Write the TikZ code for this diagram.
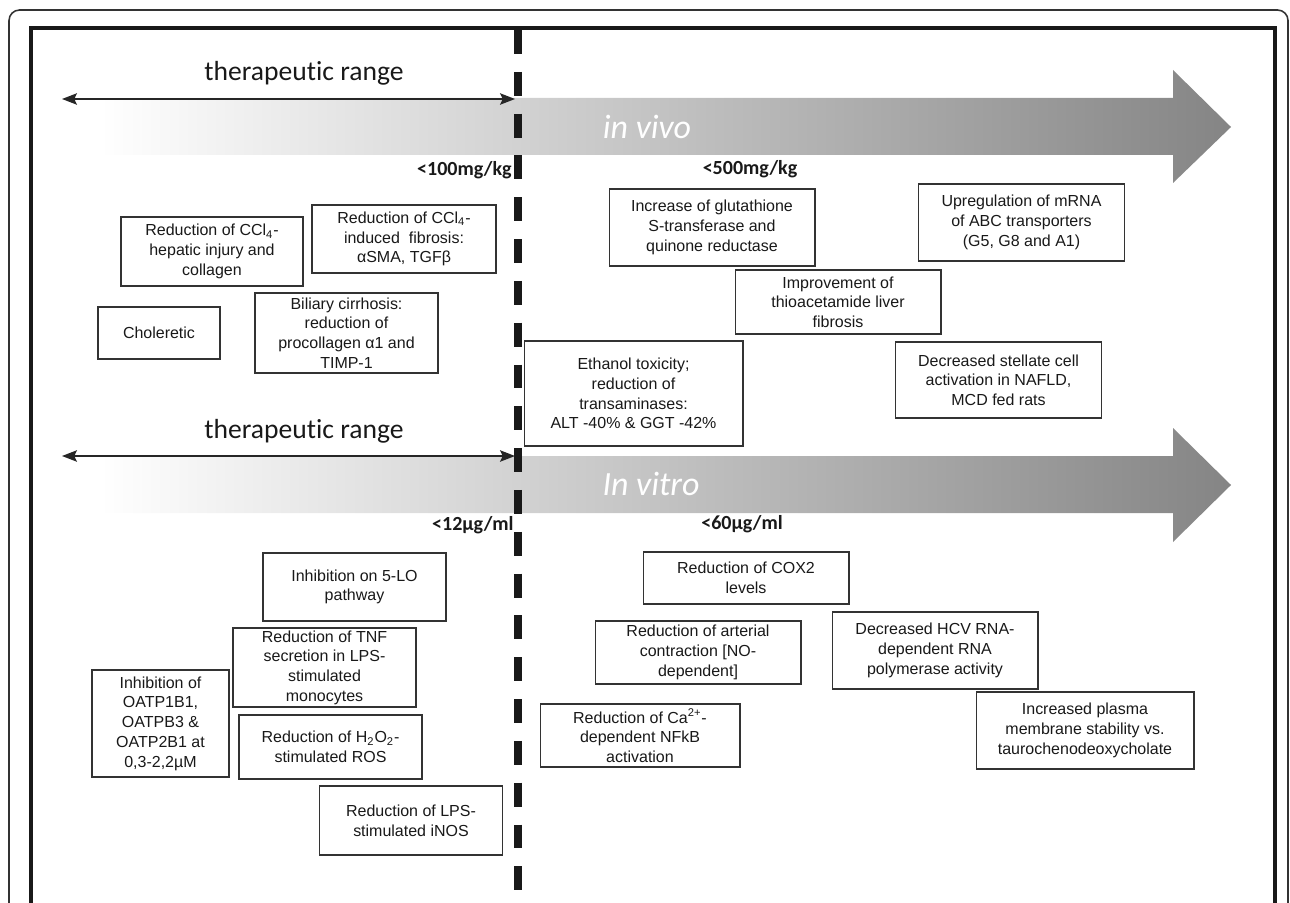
\documentclass[tikz,border=0pt]{standalone}
\usepackage{fontspec}
\setmainfont{Liberation Sans}
\newfontfamily\calfont[Ligatures=NoCommon]{Carlito}
\usetikzlibrary{arrows.meta,positioning}

\tikzset{
  box/.style={draw=black!80, line width=0.6pt, fill=white, align=center, inner sep=1pt,
    text=black!90, font=\fontsize{9.1pt}{11.2pt}\selectfont},
  narrowbox/.style={box, minimum width=3.66cm},
  widebox/.style={box, minimum width=4.12cm},
  rangelabel/.style={text=black!90, font=\calfont\fontsize{15.7pt}{18pt}\selectfont},
  doselabel/.style={text=black!90, inner sep=0pt, font=\calfont\bfseries\fontsize{11.4pt}{13pt}\selectfont},
  modellabel/.style={text=white, font=\calfont\itshape\fontsize{19.3pt}{22pt}\selectfont},
  rangearrow/.style={{Stealth[length=8.5pt,width=6.5pt,inset=1.5pt]}-{Stealth[length=8.5pt,width=6.5pt,inset=1.5pt]}, line width=0.8pt, black!85},
  bigarrow/.style={left color=white, right color=black!48}
}

\begin{document}
\begin{tikzpicture}[x=0.02cm, y=-0.02cm]
\useasboundingbox (0,0) rectangle (1290,902);

% Frames
\draw[line width=0.9pt, black!80, rounded corners=6pt] (9,910) -- (9,10) -- (1288,10) -- (1288,910);
\draw[line width=2.2pt, black!90] (31,910) -- (31,28) -- (1275,28) -- (1275,910);

% Gradient arrows
\shade[bigarrow] (100,98) -- (1173,98) -- (1173,70) -- (1231,127) -- (1173,183) -- (1173,155) -- (100,155) -- cycle;
\shade[bigarrow] (100,456) -- (1173,456) -- (1173,428) -- (1231,485) -- (1173,542) -- (1173,513) -- (100,513) -- cycle;
\node[modellabel] (vivo) at (647,127) {in vivo};
\node[modellabel] (vitro) at (651,484) {In vitro};

% Threshold line
\draw[line width=4pt, black!90, dash pattern=on 13.6pt off 10.2pt] (518,30) -- (518,910);

% Therapeutic ranges
\node[rangelabel] (range1) at (304,73) {therapeutic range};
\coordinate (r1l) at (62,99);
\coordinate (r1r) at (515,99);
\draw[rangearrow] (r1l) -- (r1r);
\node[rangelabel] (range2) at (304,431) {therapeutic range};
\coordinate (r2l) at (62,456);
\coordinate (r2r) at (515,456);
\draw[rangearrow] (r2l) -- (r2r);

% Doses
\node[doselabel, anchor=east] (d100) at (512,170) {<100mg/kg};
\node[doselabel] (d500) at (750,169) {<500mg/kg};
\node[doselabel, anchor=east] (d12) at (514,525) {<12µg/ml};
\node[doselabel] (d60) at (742,524) {<60µg/ml};

% In vivo effects
\node[box, minimum width=3.64cm, minimum height=1.38cm] (ccliv) at (212,251.5) {Reduction of CCl\textsubscript{4}-\\hepatic injury and\\collagen};
\node[box, minimum width=3.68cm, minimum height=1.36cm] (cclfib) at (404,239) {Reduction of CCl\textsubscript{4}-\\induced~ fibrosis:\\αSMA, TGFβ};
\node[box, minimum width=2.44cm, minimum height=1.04cm] (chol) at (159,333) {Choleretic};
\node[narrowbox, minimum height=1.60cm] (bil) at (346.5,333) {Biliary cirrhosis:\\reduction of\\procollagen α1 and\\TIMP-1};
\node[widebox, minimum height=1.54cm] (glut) at (712,227.5) {Increase of glutathione\\S-transferase and\\quinone reductase};
\node[widebox, minimum height=1.54cm] (abc) at (1021.5,222.5) {Upregulation of mRNA\\of ABC transporters\\(G5, G8 and A1)};
\node[widebox, minimum height=1.28cm] (thio) at (838,302) {Improvement of\\thioacetamide liver\\fibrosis};
\node[box, minimum width=4.38cm, minimum height=2.10cm] (eth) at (633.5,393.5) {Ethanol toxicity;\\reduction of\\transaminases:\\ALT -40\% \& GGT -42\%};
\node[widebox, minimum height=1.52cm] (stel) at (998.5,380) {Decreased stellate cell\\activation in NAFLD,\\MCD fed rats};

% In vitro effects
\node[narrowbox, minimum height=1.36cm] (lox) at (354.5,587) {Inhibition on 5-LO\\pathway};
\node[narrowbox, minimum height=1.58cm] (tnf) at (324.5,667.5) {Reduction of TNF\\secretion in LPS-\\stimulated\\monocytes};
\node[box, minimum width=2.74cm, minimum height=2.14cm] (oatp) at (160.5,723.5) {Inhibition of\\OATP1B1,\\OATPB3 \&\\OATP2B1 at\\0,3-2,2µM};
\node[narrowbox, minimum height=1.28cm] (ros) at (330.5,747) {Reduction of H\textsubscript{2}O\textsubscript{2}-\\stimulated ROS};
\node[narrowbox, minimum height=1.38cm] (inos) at (411,820.5) {Reduction of LPS-\\stimulated iNOS};
\node[widebox, minimum height=1.04cm] (cox) at (746,578) {Reduction of COX2\\levels};
\node[widebox, minimum height=1.26cm] (art) at (698,652.5) {Reduction of arterial\\contraction [NO-\\dependent]};
\node[widebox, minimum height=1.54cm] (hcv) at (935,650.5) {Decreased HCV RNA-\\dependent RNA\\polymerase activity};
\node[box, minimum width=4.00cm, minimum height=1.26cm] (nfkb) at (640,735.5) {Reduction of Ca\textsuperscript{2+}-\\dependent NFkB\\activation};
\node[box, minimum width=4.36cm, minimum height=1.54cm] (plasma) at (1085,730.5) {Increased plasma\\membrane stability vs.\\taurochenodeoxycholate};
\end{tikzpicture}
\end{document}
